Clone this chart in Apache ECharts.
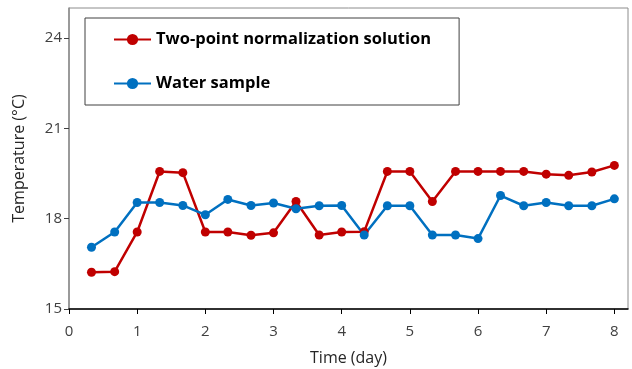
<!DOCTYPE html>
<html>
<head>
<meta charset="utf-8">
<script src="https://cdn.jsdelivr.net/npm/echarts@6/dist/echarts.min.js"></script>
<style>
  html, body { margin: 0; padding: 0; background: #fff; }
  #main { width: 632px; height: 369px; }
</style>
</head>
<body>
<div id="main"></div>
<script>
// time points (day)
const days = [0.33, 0.67, 1, 1.33, 1.67, 2, 2.33, 2.67, 3, 3.33, 3.67, 4,
  4.33, 4.67, 5, 5.33, 5.67, 6, 6.33, 6.67, 7, 7.33, 7.67, 8];
const twoPoint = [16.22, 16.24, 17.56, 19.57, 19.53, 17.56, 17.56, 17.45, 17.53, 18.57, 17.46, 17.56,
  17.57, 19.57, 19.57, 18.57, 19.57, 19.57, 19.57, 19.57, 19.48, 19.44, 19.55, 19.77];
const water = [17.05, 17.56, 18.54, 18.54, 18.44, 18.13, 18.64, 18.44, 18.52, 18.33, 18.43, 18.44,
  17.46, 18.43, 18.43, 17.46, 17.46, 17.34, 18.77, 18.43, 18.54, 18.43, 18.43, 18.66];
const xTicks = [0, 1, 2, 3, 4, 5, 6, 7, 8];
const yTicks = [15, 18, 21, 24];

const font = '"Open Sans", "Liberation Sans", sans-serif';
const chart = echarts.init(document.getElementById('main'));

function pairs(ys) {
  return days.map((d, i) => [d, ys[i]]);
}

const option = {
  animation: false,
  grid: {
    left: 69, top: 8, right: 4, bottom: 60,
    outerBoundsMode: 'none',
    show: true, borderColor: '#8c8c8c', borderWidth: 1
  },
  legend: {
    orient: 'vertical',
    left: 85, top: 18,
    padding: [13, 28, 13, 28],
    itemGap: 27,
    itemWidth: 37, itemHeight: 14,
    borderColor: '#404040', borderWidth: 1,
    textStyle: { fontFamily: font, fontSize: 16.5, fontWeight: 'bold', color: '#000' },
    data: ['Two-point normalization solution', 'Water sample']
  },
  xAxis: {
    type: 'value', min: 0, max: 8.2,
    name: 'Time (day)', nameLocation: 'middle', nameGap: 41,
    nameTextStyle: { fontFamily: font, fontSize: 16, color: '#262626' },
    axisLine: { lineStyle: { color: '#000', width: 1.5 } },
    axisTick: { show: true, length: 5, customValues: xTicks, lineStyle: { color: '#000' } },
    axisLabel: { customValues: xTicks, margin: 15, fontFamily: font, fontSize: 15, color: '#404040' },
    splitLine: { show: false }
  },
  yAxis: {
    type: 'value', min: 15, max: 25,
    name: 'Temperature (\u00B0C)', nameLocation: 'middle', nameGap: 42,
    nameTextStyle: { fontFamily: font, fontSize: 16, color: '#262626' },
    axisLine: { show: true, lineStyle: { color: '#8c8c8c', width: 1.5 } },
    axisTick: { show: true, length: 5, customValues: yTicks, lineStyle: { color: '#404040' } },
    axisLabel: { customValues: yTicks, margin: 7, fontFamily: font, fontSize: 15, color: '#404040' },
    splitLine: { show: false }
  },
  series: [
    {
      name: 'Two-point normalization solution',
      type: 'line',
      data: pairs(twoPoint),
      symbol: 'circle', symbolSize: 9,
      lineStyle: { color: '#C00000', width: 2.5 },
      itemStyle: { color: '#C00000' }
    },
    {
      name: 'Water sample',
      type: 'line',
      data: pairs(water),
      symbol: 'circle', symbolSize: 9,
      lineStyle: { color: '#0070C0', width: 2.5 },
      itemStyle: { color: '#0070C0' }
    }
  ]
};

chart.setOption(option);
</script>
</body>
</html>
